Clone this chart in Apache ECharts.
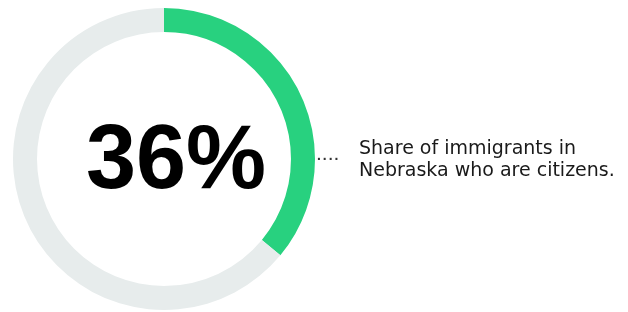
<!DOCTYPE html>
<html>
<head>
<meta charset="utf-8">
<script src="https://cdn.jsdelivr.net/npm/echarts@6/dist/echarts.min.js"></script>
<style>
  html, body { margin: 0; padding: 0; background: #fff; }
  #chart { width: 628px; height: 312px; }
</style>
</head>
<body>
<div id="chart"></div>
<script>
// data
const categories = ['Citizens', 'Not citizens']
const shareValues = [36, 64]
const caption = ['Share of immigrants in', 'Nebraska who are citizens.']

const colors = ['#28d17f', '#e7ecec']

const chart = echarts.init(document.getElementById('chart'))

chart.setOption({
  animation: false,
  color: colors,
  series: [
    {
      type: 'pie',
      center: [164, 159],
      radius: [127, 151],
      startAngle: 90,
      clockwise: true,
      silent: true,
      label: { show: false },
      labelLine: { show: false },
      itemStyle: { borderWidth: 0 },
      data: categories.map((name, i) => ({ name, value: shareValues[i] }))
    }
  ],
  graphic: [
    {
      type: 'text',
      left: 86,
      top: 118,
      style: {
        text: `${shareValues[0]}%`,
        font: 'bold 90px "Liberation Sans", Arial, sans-serif',
        fill: '#000'
      }
    },
    {
      type: 'text',
      left: 316,
      top: 144,
      style: {
        text: '....',
        font: '21px "Liberation Sans", Arial, sans-serif',
        fill: '#333'
      }
    },
    {
      type: 'text',
      left: 359,
      top: 138,
      style: {
        text: caption.join('\n'),
        font: '19px "DejaVu Sans", sans-serif',
        lineHeight: 22,
        fill: '#1a1a1a'
      }
    }
  ]
})
</script>
</body>
</html>
